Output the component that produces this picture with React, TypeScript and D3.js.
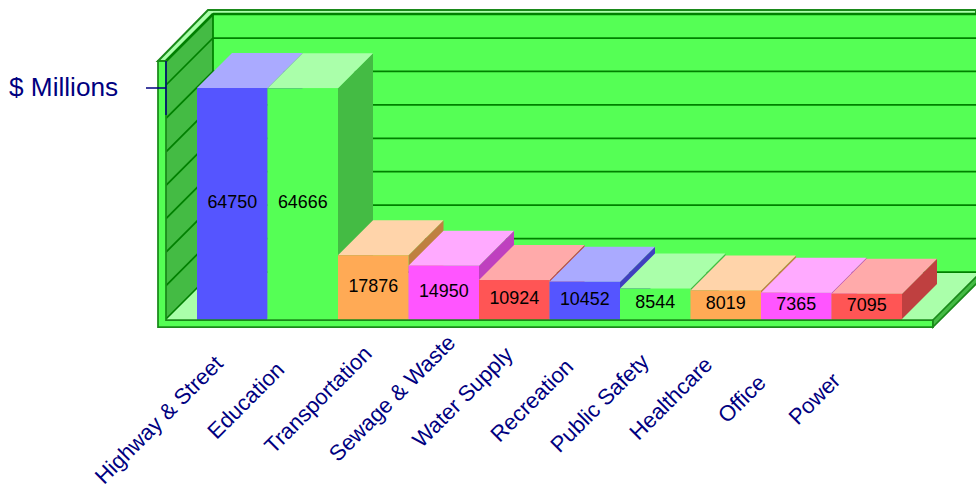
import React from "react";
import * as d3 from "d3";

// Annual spending by construction category, $ millions
const categories = [
  "Highway & Street",
  "Education",
  "Transportation",
  "Sewage & Waste",
  "Water Supply",
  "Recreation",
  "Public Safety",
  "Healthcare",
  "Office",
  "Power",
];
const values = [64750, 64666, 17876, 14950, 10924, 10452, 8544, 8019, 7365, 7095];
const axisTitle = "$ Millions";
const gridSteps = [1, 2, 3, 4, 5, 6, 7];

// Face colours cycle through the series palette: front, top, side
const palette = [
  { front: "#5555ff", top: "#aaaaff", side: "#4040bf" },
  { front: "#55ff55", top: "#aaffaa", side: "#44bb44" },
  { front: "#ffaa55", top: "#ffd4aa", side: "#bf8040" },
  { front: "#ff55ff", top: "#ffaaff", side: "#bf40bf" },
  { front: "#ff5555", top: "#ffaaaa", side: "#bf4040" },
];

const WIDTH = 976;
const HEIGHT = 485;
const NAVY = "#000080";
const EDGE = "#1a8a1a";
const GRID = "#008000";
const WALL = "#55ff55";
const WALL_SIDE = "#44bb44";
const FLOOR = "#aaffaa";
const FONT = "'Liberation Sans', Arial, sans-serif";

const BAR_DEPTH = 35;
const WALL_DEPTH = 47;
const FRONT_X = 166;
const BASE_Y = 319;
const LIP_Y = 320;
const RIGHT_X = 933;
const TOP_FRONT_Y = 61;

// Where each slanted category label ends, relative to its bar's centre
const labelEndDx = [-8, -17, 0, 13, 0, -10, -5, -12, -29, -25];
const labelEndDy = [365, 371, 355, 344, 356, 368, 363, 366, 384, 382];

const poly = (pts: number[][]) => pts.map((p) => p.join(",")).join(" ");

export default function App() {
  const x = d3.scaleBand<string>().domain(categories).range([197, 902]).padding(0);
  const y = d3.scaleLinear().domain([0, 64750]).range([BASE_Y, 88]);
  const wallY = d3.scaleLinear().domain([0, 7]).range([272, 38]);
  const backX = FRONT_X + WALL_DEPTH;
  const backTop = TOP_FRONT_Y - WALL_DEPTH;
  const backBase = BASE_Y - WALL_DEPTH;
  const w = x.bandwidth();

  return (
    <svg
      width={WIDTH}
      height={HEIGHT}
      viewBox={`0 0 ${WIDTH} ${HEIGHT}`}
      style={{ position: "absolute", left: 0, top: 0, background: "#fff" }}
    >
      {/* back wall */}
      <rect x={backX} y={backTop} width={WIDTH - backX} height={backBase - backTop} fill={WALL} />
      {/* left wall */}
      <polygon
        points={poly([
          [FRONT_X, TOP_FRONT_Y],
          [backX, backTop],
          [backX, backBase],
          [FRONT_X, BASE_Y],
        ])}
        fill={WALL_SIDE}
      />
      {/* floor */}
      <polygon
        points={poly([
          [FRONT_X, LIP_Y],
          [backX, backBase],
          [RIGHT_X + WALL_DEPTH, backBase],
          [RIGHT_X, LIP_Y],
        ])}
        fill={FLOOR}
      />
      {/* grid lines run across the back wall and down the left wall */}
      {[0, ...gridSteps].map((s) => (
        <g key={s} stroke={GRID} strokeWidth={1.75} fill="none">
          <line x1={backX} x2={WIDTH} y1={wallY(s)} y2={wallY(s)} />
          <line x1={backX} y1={wallY(s)} x2={FRONT_X} y2={wallY(s) + WALL_DEPTH} />
        </g>
      ))}
      <line x1={backX} x2={backX} y1={backTop} y2={backBase} stroke={GRID} strokeWidth={1.75} />
      {/* upper rim of the box */}
      <polygon
        points={poly([
          [158, TOP_FRONT_Y],
          [208, 10],
          [WIDTH, 10],
          [WIDTH, backTop],
          [backX, backTop],
          [FRONT_X, TOP_FRONT_Y],
        ])}
        fill={FLOOR}
        stroke={EDGE}
        strokeWidth={2}
      />
      <line x1={backX} y1={backTop} x2={WIDTH} y2={backTop} stroke={GRID} strokeWidth={2.5} />
      <line x1={backX} y1={backTop} x2={FRONT_X} y2={TOP_FRONT_Y} stroke={GRID} strokeWidth={2.5} />

      {/* bars are painted left to right so each one covers its neighbour's side */}
      {categories.map((c, i) => {
        const x0 = x(c) as number;
        const x1 = x0 + w;
        const yt = y(values[i]);
        const col = palette[i % palette.length];
        return (
          <g key={c}>
            <polygon
              points={poly([
                [x1, yt],
                [x1 + BAR_DEPTH, yt - BAR_DEPTH],
                [x1 + BAR_DEPTH, BASE_Y - BAR_DEPTH],
                [x1, BASE_Y],
              ])}
              fill={col.side}
            />
            <polygon
              points={poly([
                [x0, yt],
                [x0 + BAR_DEPTH, yt - BAR_DEPTH],
                [x1 + BAR_DEPTH, yt - BAR_DEPTH],
                [x1, yt],
              ])}
              fill={col.top}
            />
            <rect x={x0} y={yt} width={w} height={LIP_Y - yt} fill={col.front} />
            <text
              x={x0 + w / 2}
              y={(yt + BASE_Y) / 2 + 4.5}
              textAnchor="middle"
              fontFamily={FONT}
              fontSize={17.9}
              fill="#000"
            >
              {values[i]}
            </text>
          </g>
        );
      })}

      {/* front lip of the box */}
      <polygon
        points={poly([
          [158, TOP_FRONT_Y],
          [FRONT_X, TOP_FRONT_Y],
          [FRONT_X, LIP_Y],
          [RIGHT_X, LIP_Y],
          [RIGHT_X, 327],
          [158, 327],
        ])}
        fill={WALL}
        stroke={EDGE}
        strokeWidth={1.75}
      />
      <polygon
        points={poly([
          [RIGHT_X, LIP_Y],
          [RIGHT_X + WALL_DEPTH, backBase + 1],
          [RIGHT_X + WALL_DEPTH, backBase + 8],
          [RIGHT_X, 327],
        ])}
        fill={WALL_SIDE}
        stroke={EDGE}
        strokeWidth={1.75}
      />

      {/* vertical axis stub and its title */}
      <line x1={FRONT_X} x2={FRONT_X} y1={TOP_FRONT_Y} y2={115} stroke={NAVY} strokeWidth={1.5} />
      <line x1={146} x2={FRONT_X} y1={88} y2={88} stroke={NAVY} strokeWidth={1.5} />
      <text x={9} y={96} fontFamily={FONT} fontSize={26.2} fill={NAVY}>
        {axisTitle}
      </text>

      {categories.map((c, i) => {
        const cx = (x(c) as number) + w / 2 + labelEndDx[i];
        return (
          <text
            key={c}
            transform={`translate(${cx},${labelEndDy[i]}) rotate(-45)`}
            textAnchor="end"
            fontFamily={FONT}
            fontSize={22}
            fill={NAVY}
          >
            {c}
          </text>
        );
      })}
    </svg>
  );
}
